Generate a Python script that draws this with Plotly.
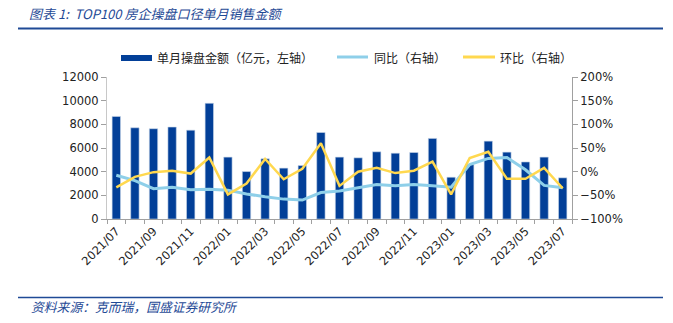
import plotly.graph_objects as go

months = ["2021/07","2021/08","2021/09","2021/10","2021/11","2021/12",
          "2022/01","2022/02","2022/03","2022/04","2022/05","2022/06",
          "2022/07","2022/08","2022/09","2022/10","2022/11","2022/12",
          "2023/01","2023/02","2023/03","2023/04","2023/05","2023/06","2023/07"]
sales = [8670, 7710, 7630, 7770, 7510, 9780, 5230, 4010, 5090, 4300, 4520, 7310,
         5230, 5170, 5680, 5560, 5620, 6810, 3530, 4600, 6580, 5650, 4820, 5230, 3480]
yoy = [-7.6, -19, -36, -33, -38, -37, -39, -47, -53, -58, -60, -44,
       -41, -34, -27, -30, -27, -30, -33, 15, 28, 30, 4, -29, -34]
mom = [-33, -11, -1, 2, -4, 30, -48, -25, 27, -16, 6, 60,
       -30, 0, 8, -3, 2, 21, -48, 29, 42, -15, -15, 8, -35]
tick_labels = [m if i % 2 == 0 else "" for i, m in enumerate(months)]

BAR = "#023F98"
LBLUE = "#8ECFE9"
YEL = "#FFD84F"
TXT = "#222222"
TITLE_BLUE = "#1F4A96"
AX = "#A0A0A0"

fig = go.Figure()
fig.add_trace(go.Bar(x=months, y=sales, marker=dict(color=BAR, line=dict(color="#C9D6EA", width=0.6)),
                     name="单月操盘金额（亿元，左轴）", yaxis="y"))
fig.add_trace(go.Scatter(x=months, y=[v / 100 for v in yoy], mode="lines",
                         line=dict(color=LBLUE, width=3), name="同比（右轴）", yaxis="y2"))
fig.add_trace(go.Scatter(x=months, y=[v / 100 for v in mom], mode="lines",
                         line=dict(color=YEL, width=2.5), name="环比（右轴）", yaxis="y2"))

L, R, T, B = 107, 101, 77, 104
W, H = 673, 323
pw, ph = W - L - R, H - T - B

def px(x):
    return (x - L) / pw

def py(y):
    return (H - B - y) / ph

fig.update_layout(
    width=W, height=H,
    margin=dict(l=L, r=R, t=T, b=B),
    paper_bgcolor="white", plot_bgcolor="white",
    showlegend=False,
    bargap=0.55,
    font=dict(family="DejaVu Sans, Noto Sans CJK SC", size=11, color=TXT),
    xaxis=dict(type="category", range=[-0.5, len(months) - 0.5],
               tickvals=months, ticktext=tick_labels, tickangle=-45,
               tickson="boundaries", ticks="outside", ticklen=4, tickcolor=AX,
               showline=True, linecolor=AX, linewidth=1, showgrid=False,
               tickfont=dict(family="DejaVu Sans", size=11.5, color=TXT)),
    yaxis=dict(range=[0, 12000], dtick=2000, tickformat="d", showgrid=False, zeroline=False,
               showline=True, linecolor="#C8C8C8", linewidth=1, ticks="outside", ticklen=5, tickcolor=AX,
               tickfont=dict(family="DejaVu Sans", size=11.5, color=TXT)),
    yaxis2=dict(range=[-1, 2], dtick=0.5, tickformat=".0%", overlaying="y", side="right",
                showgrid=False, zeroline=False, showline=True, linecolor=AX, linewidth=1,
                ticks="outside", ticklen=5, tickcolor=AX,
                tickfont=dict(family="DejaVu Sans", size=11.5, color=TXT)),
)

shapes = []
annos = []
# Title and underline
annos.append(dict(x=px(27), y=py(14), xref="paper", yref="paper", xanchor="left", yanchor="middle",
                  text="图表 1:  TOP100 房企操盘口径单月销售金额", showarrow=False,
                  font=dict(family="Noto Sans CJK SC", size=13, color=TITLE_BLUE, style="italic")))
shapes.append(dict(type="line", xref="paper", yref="paper", x0=px(18), x1=px(663), y0=py(28.5), y1=py(28.5),
                   line=dict(color=TITLE_BLUE, width=2)))
# Source and line
shapes.append(dict(type="line", xref="paper", yref="paper", x0=px(18), x1=px(663), y0=py(297.5), y1=py(297.5),
                   line=dict(color=TITLE_BLUE, width=1.5)))
annos.append(dict(x=px(29), y=py(306), xref="paper", yref="paper", xanchor="left", yanchor="middle",
                  text="资料来源：克而瑞，国盛证券研究所", showarrow=False,
                  font=dict(family="Noto Sans CJK SC", size=12.8, color=TITLE_BLUE, style="italic")))
# Custom legend
shapes.append(dict(type="rect", xref="paper", yref="paper", x0=px(121), x1=px(152), y0=py(55), y1=py(61),
                   fillcolor=BAR, line=dict(width=0)))
annos.append(dict(x=px(155), y=py(58), xref="paper", yref="paper", xanchor="left", yanchor="middle",
                  text="单月操盘金额（亿元，左轴）", showarrow=False,
                  font=dict(family="Noto Sans CJK SC", size=12, color=TXT)))
shapes.append(dict(type="line", xref="paper", yref="paper", x0=px(337), x1=px(368), y0=py(57), y1=py(57),
                   line=dict(color=LBLUE, width=3)))
annos.append(dict(x=px(372), y=py(58), xref="paper", yref="paper", xanchor="left", yanchor="middle",
                  text="同比（右轴）", showarrow=False,
                  font=dict(family="Noto Sans CJK SC", size=12, color=TXT)))
shapes.append(dict(type="line", xref="paper", yref="paper", x0=px(463), x1=px(495), y0=py(57), y1=py(57),
                   line=dict(color=YEL, width=3)))
annos.append(dict(x=px(498), y=py(58), xref="paper", yref="paper", xanchor="left", yanchor="middle",
                  text="环比（右轴）", showarrow=False,
                  font=dict(family="Noto Sans CJK SC", size=12, color=TXT)))

fig.update_layout(shapes=shapes, annotations=annos)
fig.write_html("out.html")
